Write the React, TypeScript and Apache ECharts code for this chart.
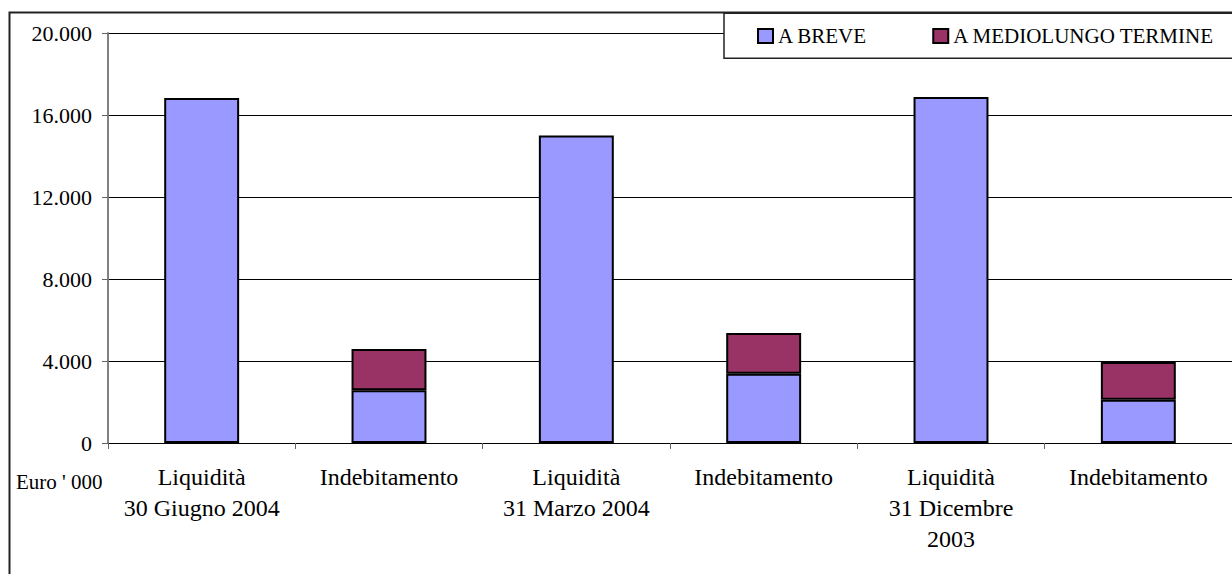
import React, { useEffect, useRef } from "react";
import * as echarts from "echarts";

const categories = [
  "Liquidità\n30 Giugno 2004",
  "Indebitamento",
  "Liquidità\n31 Marzo 2004",
  "Indebitamento",
  "Liquidità\n31 Dicembre\n2003",
  "Indebitamento",
];
const seriesNames = ["A BREVE", "A MEDIOLUNGO TERMINE"];
const breve = [16830, 2570, 15000, 3380, 16880, 2110];
const medio = [null, 2020, null, 1990, null, 1840];
const unitLabel = "Euro ' 000";

const FONT = "Liberation Serif";

const fmt = (v: number) => {
  const s = Math.round(v).toString();
  return s.replace(/\B(?=(\d{3})+(?!\d))/g, ".");
};

export default function App() {
  const ref = useRef<HTMLDivElement>(null);
  useEffect(() => {
    if (!ref.current) return;
    const chart = echarts.init(ref.current, null, { renderer: "svg" });
    const barStyle = (color: string) => ({
      color,
      borderColor: "#000",
      borderWidth: 2,
    });
    chart.setOption({
      animation: false,
      backgroundColor: "#fff",
      textStyle: { fontFamily: FONT },
      grid: { left: 108, top: 33, width: 1140, height: 410, containLabel: false },
      legend: {
        data: seriesNames,
        left: 757,
        top: 25,
        width: 470,
        padding: 0,
        itemWidth: 15,
        itemHeight: 14,
        itemGap: 65,
        icon: "rect",
        z: 10,
        textStyle: { fontFamily: FONT, fontSize: 21, color: "#000", lineHeight: 22 },
      },
      graphic: [
        {
          type: "rect",
          z: 1,
          silent: true,
          shape: { x: 9.5, y: 12.5, width: 1400, height: 800 },
          style: { fill: "none", stroke: "#222", lineWidth: 2 },
        },
        {
          type: "rect",
          z: 5,
          silent: true,
          shape: { x: 724, y: 13.3, width: 600, height: 45 },
          style: { fill: "#fff", stroke: "#222", lineWidth: 1.5 },
        },
        {
          type: "text",
          z: 5,
          left: 16,
          top: 471,
          style: {
            text: unitLabel,
            fontFamily: FONT,
            fontSize: 21,
            lineHeight: 14,
            fill: "#000",
          },
        },
      ],
      xAxis: {
        type: "category",
        data: categories,
        boundaryGap: true,
        axisLine: { lineStyle: { color: "#000", width: 1 } },
        axisTick: { show: true, length: 6, lineStyle: { color: "#666" } },
        axisLabel: {
          interval: 0,
          margin: 18,
          fontFamily: FONT,
          fontSize: 24,
          lineHeight: 31,
          color: "#000",
        },
      },
      yAxis: {
        type: "value",
        min: 0,
        max: 20000,
        interval: 4000,
        axisLine: { show: true, lineStyle: { color: "#808080", width: 2 } },
        axisTick: { show: true, length: 6, lineStyle: { color: "#666" } },
        splitLine: { show: true, lineStyle: { color: "#000", width: 1 } },
        axisLabel: {
          margin: 16,
          fontFamily: FONT,
          fontSize: 22,
          lineHeight: 14,
          color: "#000",
          formatter: (v: number) => fmt(v),
        },
      },
      series: [
        {
          name: seriesNames[0],
          type: "bar",
          stack: "tot",
          barWidth: "40%",
          data: breve,
          itemStyle: barStyle("#9999FF"),
        },
        {
          name: seriesNames[1],
          type: "bar",
          stack: "tot",
          barWidth: "40%",
          data: medio,
          itemStyle: barStyle("#993366"),
        },
      ],
    });
    return () => chart.dispose();
  }, []);
  return (
    <div
      ref={ref}
      style={{ position: "fixed", left: 0, top: 0, width: 1232, height: 574 }}
    />
  );
}
